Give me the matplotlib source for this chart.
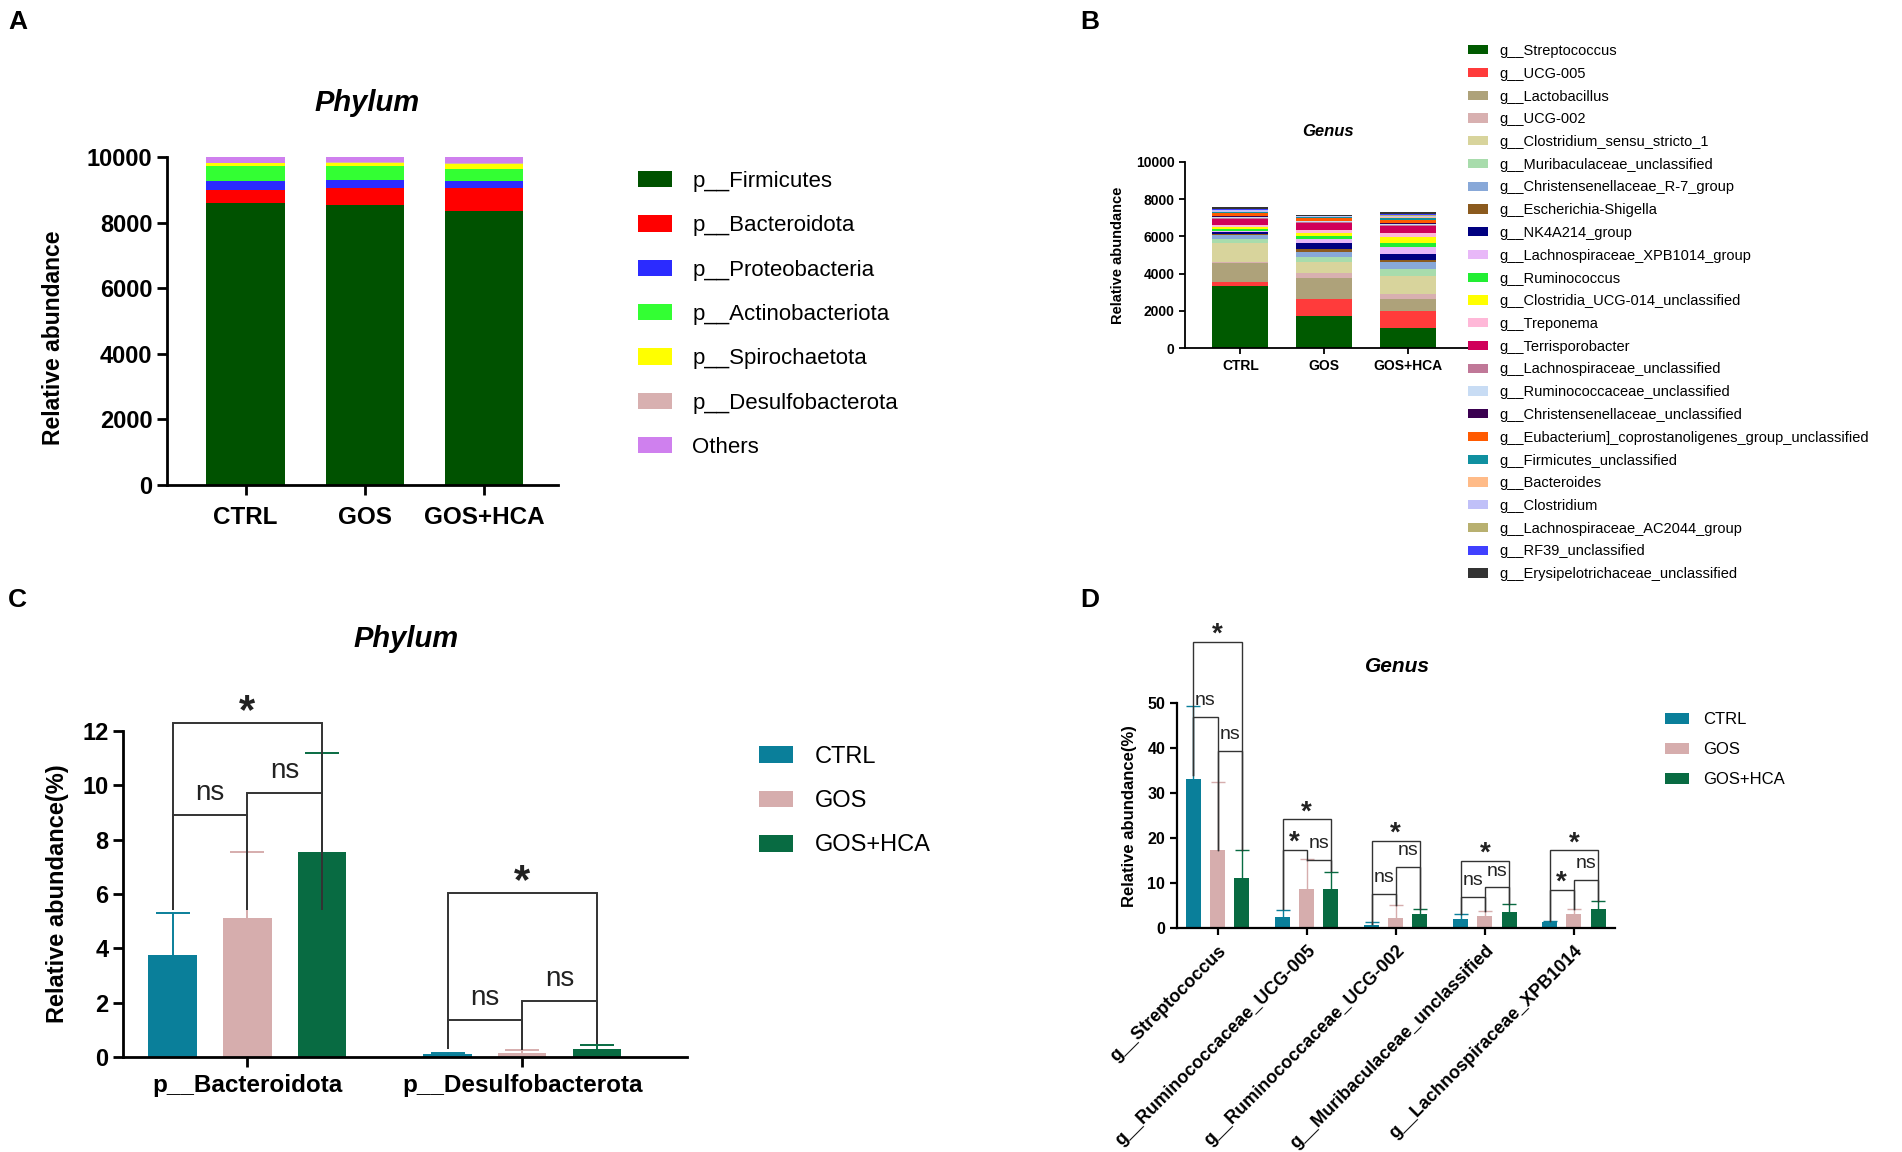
import matplotlib
matplotlib.use("Agg")
import matplotlib.pyplot as plt
import numpy as np

plt.rcParams['font.family'] = ['Liberation Sans', 'DejaVu Sans']

W, H = 1902, 1152

# ─────────────────── 数据 ────────────────────

groups = ["CTRL", "GOS", "GOS+HCA"]
group_colors = ["#0a7f9a", "#d6adad", "#086b42"]

# A: phylum stacked abundance (rows = phylum, cols = CTRL, GOS, GOS+HCA)
phyla = ["p__Firmicutes", "p__Bacteroidota", "p__Proteobacteria", "p__Actinobacteriota",
         "p__Spirochaetota", "p__Desulfobacterota", "Others"]
phylum_colors = ["#005200", "#ff0000", "#2b2bff", "#33ff33", "#ffff00", "#d8b0b0", "#cf80ee"]
phylum_abund = [
    [8610, 8540, 8350],
    [370, 530, 710],
    [280, 240, 220],
    [460, 430, 360],
    [90, 80, 140],
    [20, 20, 30],
    [170, 160, 190],
]

# B: genus stacked abundance
genera = ["g__Streptococcus", "g__UCG-005", "g__Lactobacillus", "g__UCG-002",
          "g__Clostridium_sensu_stricto_1", "g__Muribaculaceae_unclassified",
          "g__Christensenellaceae_R-7_group", "g__Escherichia-Shigella", "g__NK4A214_group",
          "g__Lachnospiraceae_XPB1014_group", "g__Ruminococcus", "g__Clostridia_UCG-014_unclassified",
          "g__Treponema", "g__Terrisporobacter", "g__Lachnospiraceae_unclassified",
          "g__Ruminococcaceae_unclassified", "g__Christensenellaceae_unclassified",
          "g__Eubacterium]_coprostanoligenes_group_unclassified", "g__Firmicutes_unclassified",
          "g__Bacteroides", "g__Clostridium", "g__Lachnospiraceae_AC2044_group",
          "g__RF39_unclassified", "g__Erysipelotrichaceae_unclassified"]
genus_colors = ["#005a00", "#ff3b3b", "#aea27a", "#d8b0b0", "#d8d49c", "#a8dcac", "#88a8d8",
                "#8b5a1e", "#000080", "#e8b8f8", "#22ee33", "#ffff00", "#ffb8d8", "#d0005a",
                "#c07898", "#c8dcf4", "#3a0050", "#ff5a00", "#1090a0", "#ffbb88", "#c0c0f8",
                "#b8b070", "#4040ff", "#333333"]
genus_abund = [
    [3340, 1730, 1070],
    [230, 890, 950],
    [980, 1130, 610],
    [90, 270, 290],
    [980, 590, 960],
    [220, 300, 360],
    [230, 270, 360],
    [60, 140, 140],
    [90, 300, 300],
    [80, 220, 410],
    [100, 180, 180],
    [110, 140, 320],
    [110, 180, 220],
    [300, 360, 360],
    [60, 50, 80],
    [60, 50, 70],
    [40, 40, 50],
    [160, 150, 170],
    [40, 30, 60],
    [50, 20, 50],
    [60, 30, 70],
    [40, 20, 50],
    [40, 20, 50],
    [120, 40, 100],
]

# C: phylum relative abundance (%), mean and SD per group
c_taxa = ["p__Bacteroidota", "p__Desulfobacterota"]
c_mean = [[3.75, 0.10], [5.10, 0.15], [7.55, 0.28]]
c_sd = [[1.55, 0.05], [2.45, 0.10], [3.65, 0.18]]
# (taxon, bar i, bar j, height, label)
c_brackets = [(0, 0, 1, 8.9, "ns"), (0, 1, 2, 9.7, "ns"), (0, 0, 2, 12.3, "*"),
              (1, 0, 1, 1.35, "ns"), (1, 1, 2, 2.05, "ns"), (1, 0, 2, 6.05, "*")]
c_leg_bottom = [[5.45, 5.45, 5.45], [0.33, 0.30, 0.50]]

# D: genus relative abundance (%)
d_taxa = ["g__Streptococcus", "g__Ruminococcaceae_UCG-005", "g__Ruminococcaceae_UCG-002",
          "g__Muribaculaceae_unclassified", "g__Lachnospiraceae_XPB1014"]
d_mean = [[33.2, 2.6, 0.7, 2.0, 1.3],
          [17.4, 8.8, 2.4, 2.7, 3.2],
          [11.1, 8.8, 3.2, 3.7, 4.3]]
d_sd = [[16.1, 1.5, 0.8, 1.2, 0.4],
        [15.2, 6.5, 2.8, 1.2, 1.2],
        [6.3, 3.8, 1.2, 1.7, 1.8]]
d_brackets = [(0, 0, 1, 47.0, "ns"), (0, 1, 2, 39.4, "ns"), (0, 0, 2, 63.6, "*"),
              (1, 0, 1, 17.4, "*"), (1, 1, 2, 15.2, "ns"), (1, 0, 2, 24.2, "*"),
              (2, 0, 1, 7.6, "ns"), (2, 1, 2, 13.7, "ns"), (2, 0, 2, 19.4, "*"),
              (3, 0, 1, 7.0, "ns"), (3, 1, 2, 9.1, "ns"), (3, 0, 2, 15.0, "*"),
              (4, 0, 1, 8.5, "*"), (4, 1, 2, 10.7, "ns"), (4, 0, 2, 17.3, "*")]
d_leg_bottom = [[34.0, 17.5, 17.5], [4.2, 15.2, 12.7], [1.0, 5.2, 4.4],
                [3.2, 3.9, 5.4], [1.7, 4.4, 6.1]]

GROUP_STEP = 3.68  # GraphPad spacing between grouped columns


def rect(x0, y0, x1, y1):
    """pixel box (top-left origin) -> figure fraction"""
    return [x0 / W, 1 - y1 / H, (x1 - x0) / W, (y1 - y0) / H]


def style_axes(ax, lw, tick_len, fs, pad=3.5):
    for s in ("top", "right"):
        ax.spines[s].set_visible(False)
    for s in ("left", "bottom"):
        ax.spines[s].set_linewidth(lw)
    ax.tick_params(direction="out", width=lw, length=tick_len, labelsize=fs)
    ax.tick_params(axis="x", pad=pad)
    for lab in ax.get_yticklabels() + ax.get_xticklabels():
        lab.set_fontweight("bold")


def up_errorbar(ax, xs, means, sds, color, lw, cap):
    # 只画上方误差线（GraphPad "above" 风格）
    eb = ax.errorbar(xs, means, yerr=[np.zeros(len(xs)), sds], fmt="none", ecolor=color,
                     elinewidth=lw, capsize=cap, capthick=lw, zorder=3)
    eb[1][0].set_visible(False)


def draw_brackets(ax, centers, brackets, leg_bottom, lw, fs_ns, fs_star, off_ns, off_star):
    for t, i, j, y, lab in brackets:
        xi, xj = centers[t][i], centers[t][j]
        ax.plot([xi, xi, xj, xj], [leg_bottom[t][i], y, y, leg_bottom[t][j]],
                color="#333333", lw=lw, clip_on=False, zorder=5, solid_joinstyle="miter")
        star = lab == "*"
        ax.annotate(lab, xy=((xi + xj) / 2, y), xytext=(0, off_star if star else off_ns),
                    textcoords="offset points", ha="center", va="baseline",
                    fontsize=fs_star if star else fs_ns,
                    fontweight="bold" if star else "normal",
                    color="#222222", annotation_clip=False)


fig = plt.figure(figsize=(W / 100, H / 100), dpi=100)

# ─────────────────── A ────────────────────
axA = fig.add_axes(rect(167, 157, 558, 485))
x = np.arange(len(groups))
bottom = np.zeros(len(groups))
for name, col, vals in zip(phyla, phylum_colors, phylum_abund):
    axA.bar(x, vals, bottom=bottom, width=0.66, color=col, label=name)
    bottom += np.array(vals)
axA.set_xlim(-0.66, 2.62)
axA.set_ylim(0, 10000)
axA.set_yticks(range(0, 10001, 2000))
axA.set_xticks(x)
axA.set_xticklabels(groups)
style_axes(axA, 2.0, 7, 17, pad=8)
for lab in axA.get_xticklabels():
    lab.set_fontsize(17.5)
axA.set_ylabel("Relative abundance", fontsize=16.5, fontweight="bold")
axA.yaxis.set_label_coords(-0.26, 0.45)
axA.legend(loc="upper left", bbox_to_anchor=(638 / W, 1 - 171 / H), bbox_transform=fig.transFigure,
           frameon=False, fontsize=16, borderpad=0, borderaxespad=0, handlelength=1.55,
           handleheight=0.75, handletextpad=0.9, labelspacing=1.05)
fig.text(367 / W, 1 - 103 / H, "Phylum", fontsize=21, fontweight="bold", style="italic",
         ha="center", va="center")

# ─────────────────── B ────────────────────
axB = fig.add_axes(rect(1185, 161.7, 1470, 348.3))
bottom = np.zeros(len(groups))
for name, col, vals in zip(genera, genus_colors, genus_abund):
    axB.bar(x, vals, bottom=bottom, width=0.67, color=col, label=name)
    bottom += np.array(vals)
axB.set_xlim(-0.66, 2.74)
axB.set_ylim(0, 10000)
axB.set_yticks(range(0, 10001, 2000))
axB.set_xticks(x)
axB.set_xticklabels(groups)
style_axes(axB, 1.3, 4, 10)
axB.set_ylabel("Relative abundance", fontsize=10.5, fontweight="bold")
axB.yaxis.set_label_coords(-0.21, 0.5)
axB.legend(loc="upper left", bbox_to_anchor=(1468 / W, 1 - 44 / H), bbox_transform=fig.transFigure,
           frameon=False, fontsize=10.5, borderpad=0, borderaxespad=0, handlelength=1.35,
           handleheight=0.6, handletextpad=0.8, labelspacing=0.6)
fig.text(1328 / W, 1 - 132 / H, "Genus", fontsize=12, fontweight="bold", style="italic",
         ha="center", va="center")

# ─────────────────── C ────────────────────
axC = fig.add_axes(rect(123, 731, 687, 1057))
c_centers = [[k * GROUP_STEP + (g - 1) for g in range(3)] for k in range(len(c_taxa))]
for g in range(3):
    xs = [c_centers[k][g] for k in range(len(c_taxa))]
    axC.bar(xs, c_mean[g], width=0.65, color=group_colors[g], label=groups[g], zorder=2)
    up_errorbar(axC, xs, c_mean[g], c_sd[g], group_colors[g], 1.4, 12)
axC.set_xlim(-1.664, 5.886)
axC.set_ylim(0, 12)
axC.set_yticks(range(0, 13, 2))
axC.set_xticks([k * GROUP_STEP for k in range(len(c_taxa))])
axC.set_xticklabels(c_taxa)
style_axes(axC, 2.0, 7, 17, pad=5)
for lab in axC.get_xticklabels():
    lab.set_fontsize(17.5)
axC.set_ylabel("Relative abundance(%)", fontsize=17, fontweight="bold")
axC.yaxis.set_label_coords(-0.096, 0.5)
draw_brackets(axC, c_centers, c_brackets, c_leg_bottom, 1.4, 20, 30, 11.3, 0.0)
axC.legend(loc="upper left", bbox_to_anchor=(759 / W, 1 - 746 / H), bbox_transform=fig.transFigure,
           frameon=False, fontsize=17, borderpad=0, borderaxespad=0, handlelength=1.45,
           handleheight=0.72, handletextpad=0.9, labelspacing=0.94)
fig.text(406 / W, 1 - 639 / H, "Phylum", fontsize=21, fontweight="bold", style="italic",
         ha="center", va="center")

# ─────────────────── D ────────────────────
axD = fig.add_axes(rect(1177, 703.3, 1615, 928.3))
d_centers = [[k * GROUP_STEP + (g - 1) for g in range(3)] for k in range(len(d_taxa))]
for g in range(3):
    xs = [d_centers[k][g] for k in range(len(d_taxa))]
    axD.bar(xs, d_mean[g], width=0.62, color=group_colors[g], label=groups[g], zorder=2)
    up_errorbar(axD, xs, d_mean[g], d_sd[g], group_colors[g], 1.0, 5)
axD.set_xlim(-1.68, 16.42)
axD.set_ylim(0, 50)
axD.set_yticks(range(0, 51, 10))
axD.set_xticks([k * GROUP_STEP for k in range(len(d_taxa))])
axD.set_xticklabels(d_taxa, rotation=45, ha="right", va="top", rotation_mode="anchor")
style_axes(axD, 1.6, 5, 11.5, pad=5)
for lab in axD.get_xticklabels():
    lab.set_fontsize(13)
axD.set_ylabel("Relative abundance(%)", fontsize=12, fontweight="bold")
axD.yaxis.set_label_coords(-0.091, 0.5)
draw_brackets(axD, d_centers, d_brackets, d_leg_bottom, 1.0, 14, 20, 8.4, 0.0)
axD.legend(loc="upper left", bbox_to_anchor=(1665 / W, 1 - 712 / H), bbox_transform=fig.transFigure,
           frameon=False, fontsize=12, borderpad=0, borderaxespad=0, handlelength=1.45,
           handleheight=0.65, handletextpad=0.85, labelspacing=0.9)
fig.text(1397 / W, 1 - 667 / H, "Genus", fontsize=15, fontweight="bold", style="italic",
         ha="center", va="center")

# panel letters
for lab, px, py in (("A", 8, 10), ("B", 1080, 10), ("C", 8, 588), ("D", 1080, 588)):
    fig.text(px / W, 1 - py / H, lab, fontsize=19, fontweight="bold", ha="left", va="top")

fig.savefig("out.png", dpi=100)
